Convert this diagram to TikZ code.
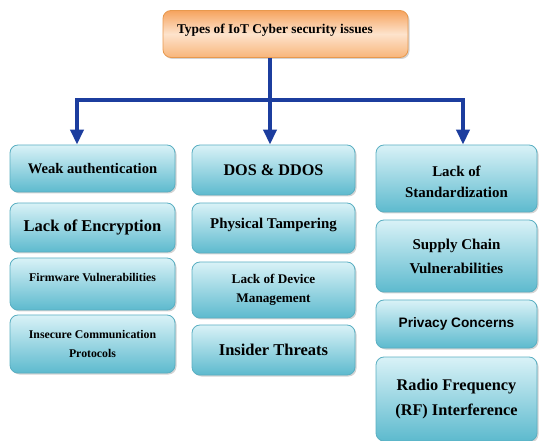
\documentclass[tikz,border=0pt]{standalone}
\usepackage{fontspec}
\setmainfont{Liberation Serif}
\newfontfamily\SansB{Liberation Sans}
\usetikzlibrary{arrows.meta,shadows}
\definecolor{boxEdge}{HTML}{5AAFC2}
\definecolor{boxTop}{HTML}{D9F2F7}
\definecolor{boxBot}{HTML}{5DBACE}
\definecolor{headEdge}{HTML}{E8994E}
\definecolor{headTop}{HTML}{F6A35E}
\definecolor{headMid}{HTML}{FDE3CC}
\definecolor{headBot}{HTML}{F8B57A}
\definecolor{arrowBlue}{HTML}{1C3D9E}
\newcommand{\Up}[2]{\raisebox{#1}[\height][\depth]{#2}}

\begin{document}
\begin{tikzpicture}[x=1pt,y=-1pt]
          \tikzstyle{boxs} = [draw=boxEdge, line width=0.8pt, top color=boxTop,
            bottom color=boxBot, rounded corners=8pt, align=center, inner sep=2pt,
            drop shadow={opacity=0.35, shadow xshift=1.5pt, shadow yshift=-1.5pt}]
          \tikzstyle{boxsH} = [draw=headEdge, line width=0.8pt, top color=headTop,
            bottom color=headBot, middle color=headMid, rounded corners=8pt, align=center,
            drop shadow={opacity=0.35, shadow xshift=1.5pt, shadow yshift=-1.5pt}]
          \tikzstyle{line} = [draw=arrowBlue, line width=4.5pt]
          \tikzstyle{lineA} = [line, -{Triangle[width=13pt,length=15pt]}]
          \tikzset{fs/.style 2 args={font=\bfseries\fontsize{#1}{#2}\selectfont}}

          \useasboundingbox (0,0) rectangle (539,441);

          \node(Types)[boxsH, fs={13.4}{16}, minimum width=245pt, minimum height=47pt] at (285.5,34)
            {\Up{4pt}{\makebox[217pt][l]{Types of IoT Cyber security issues}}};

          % left column
          \node(WeakAuth)[boxs, fs={14.6}{18}, minimum width=165pt, minimum height=47pt] at (92.5,168.5)
            {Weak authentication};
          \node(NoEncryption)[boxs, fs={16.5}{20}, minimum width=165pt, minimum height=49pt] at (92.5,227.5)
            {Lack of Encryption};
          \node(Firmware)[boxs, fs={11.8}{15}, minimum width=165pt, minimum height=52pt] at (92.5,284)
            {\Up{7pt}{Firmware Vulnerabilities}};
          \node(Insecure)[boxs, fs={11.8}{19}, minimum width=165pt, minimum height=58pt] at (92.5,344)
            {Insecure Communication\\Protocols};

          % middle column
          \node(Dos)[boxs, fs={16.2}{20}, minimum width=163pt, minimum height=50pt] at (273.5,170)
            {DOS \& DDOS};
          \node(Tampering)[boxs, fs={14.9}{18}, minimum width=163pt, minimum height=50pt] at (273.5,228)
            {\Up{3pt}{Physical Tampering}};
          \node(DeviceMgmt)[boxs, fs={13.2}{19}, minimum width=163pt, minimum height=56pt] at (273.5,290)
            {Lack of Device\\Management};
          \node(Insider)[boxs, fs={16.5}{20}, minimum width=163pt, minimum height=50pt] at (273.5,350)
            {Insider Threats};

          % right column
          \node(Standard)[boxs, fs={14.9}{21}, minimum width=161pt, minimum height=67pt] at (456.5,178.5)
            {\Up{-4pt}{\begin{tabular}{@{}c@{}}Lack of\\Standardization\end{tabular}}};
          \node(SupplyChain)[boxs, fs={15}{24}, minimum width=161pt, minimum height=72pt] at (456.5,256)
            {Supply Chain\\Vulnerabilities};
          \node(Privacy)[boxs, fs={13.7}{17}, minimum width=161pt, minimum height=48pt] at (456.5,324)
            {\SansB Privacy Concerns};
          \node(RadioFreq)[boxs, fs={16.3}{25}, minimum width=161pt, minimum height=84pt] at (456.5,399)
            {Radio Frequency\\(RF) Interference};

          % connectors
          \coordinate(Split) at ([xshift=-15.5pt]Types.south |- 0,100);
          \draw[line] ([xshift=-15.5pt]Types.south) -- (Split);
          \draw[lineA] (Split) -| ([xshift=-15.5pt]WeakAuth.north);
          \draw[lineA] (Split) -- (Split |- Dos.north);
          \draw[lineA] (Split) -| ([xshift=6.5pt]Standard.north);
\end{tikzpicture}
\end{document}
